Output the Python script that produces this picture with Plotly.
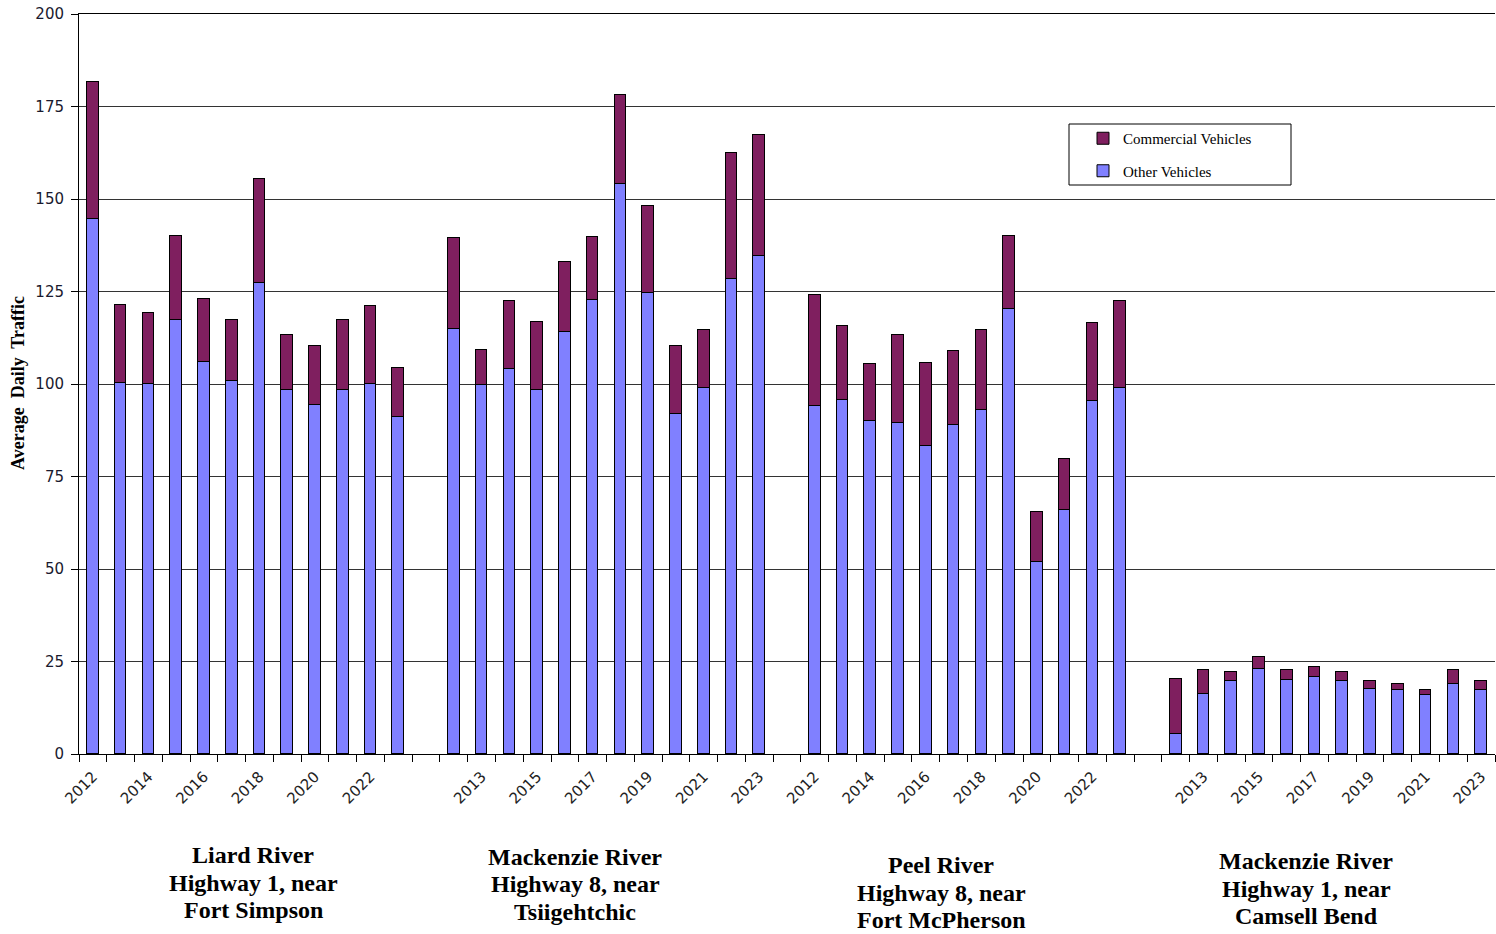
import plotly.graph_objects as go

# ---- data ----
years = [2012, 2013, 2014, 2015, 2016, 2017, 2018, 2019, 2020, 2021, 2022, 2023]
groups = [
    ["Liard River", "Highway 1, near", "Fort Simpson"],
    ["Mackenzie River", "Highway 8, near", "Tsiigehtchic"],
    ["Peel River", "Highway 8, near", "Fort McPherson"],
    ["Mackenzie River", "Highway 1, near", "Camsell Bend"],
]
# totals (top of stacked bar) and "other vehicles" per group
liard_total = [181.5, 121.4, 119.3, 140.0, 123.0, 117.2, 155.3, 113.2, 110.4, 117.2, 121.0, 104.3]
liard_other = [144.5, 100.3, 100.0, 117.2, 106.0, 100.9, 127.4, 98.5, 94.2, 98.5, 100.0, 91.0]
tsii_total = [139.4, 109.2, 122.3, 116.7, 133.1, 139.7, 178.0, 148.1, 110.3, 114.7, 162.5, 167.3]
tsii_other = [114.8, 99.7, 104.0, 98.3, 114.0, 122.6, 154.0, 124.6, 91.8, 98.9, 128.4, 134.5]
peel_total = [124.1, 115.6, 105.3, 113.2, 105.7, 109.0, 114.5, 140.1, 65.3, 79.7, 116.4, 122.4]
peel_other = [94.0, 95.8, 90.1, 89.4, 83.2, 88.8, 93.1, 120.4, 52.0, 66.0, 95.5, 98.9]
camsell_total = [20.4, 22.8, 22.1, 26.2, 22.8, 23.5, 22.1, 19.7, 19.0, 17.4, 22.8, 19.7]
camsell_other = [5.3, 16.3, 19.7, 23.1, 20.1, 20.7, 19.7, 17.7, 17.3, 16.0, 18.8, 17.3]

totals = [liard_total, tsii_total, peel_total, camsell_total]
others = [liard_other, tsii_other, peel_other, camsell_other]

y_ticks = [0, 25, 50, 75, 100, 125, 150, 175, 200]

# ---- build category positions (one empty category between groups) ----
slot = len(years) + 1
xs, other_vals, comm_vals = [], [], []
tickvals, ticktext = [], []
for g in range(len(groups)):
    for i, yr in enumerate(years):
        pos = g * slot + i
        xs.append(pos)
        other_vals.append(others[g][i])
        comm_vals.append(round(totals[g][i] - others[g][i], 2))
        if pos % 2 == 0:
            tickvals.append(pos)
            ticktext.append(str(yr))
n_cat = len(groups) * slot - 1

fig = go.Figure()
fig.add_trace(go.Bar(
    x=xs, y=other_vals, name="Other Vehicles", width=0.42,
    marker=dict(color="#8080FF", line=dict(color="#000000", width=1)),
    legendgroup="o", legendrank=2,
))
fig.add_trace(go.Bar(
    x=xs, y=comm_vals, name="Commercial Vehicles", width=0.42,
    marker=dict(color="#7F1F5F", line=dict(color="#000000", width=1)),
    legendgroup="c", legendrank=1,
))

W, H = 1496, 934
L, R, T, B = 79, 1, 14, 180
pw, ph = W - L - R, H - T - B

def px(xp):
    return (xp - L) / pw

def py(yp):
    return (H - B - yp) / ph

fig.update_layout(
    barmode="stack",
    width=W, height=H,
    margin=dict(l=L, r=R, t=T, b=B, autoexpand=False),
    plot_bgcolor="white", paper_bgcolor="white",
    bargap=0,
    showlegend=True,
    legend=dict(
        x=px(1083), y=py(122), xanchor="left", yanchor="top",
        traceorder="grouped", tracegroupgap=10,
        bgcolor="rgba(0,0,0,0)", borderwidth=0,
        font=dict(family="Liberation Serif", size=15, color="#000000"),
        itemwidth=30,
    ),
    xaxis=dict(
        range=[-0.5, n_cat - 0.5],
        tickmode="array", tickvals=tickvals, ticktext=ticktext,
        tickangle=-45, ticks="", showgrid=False, zeroline=False,
        showline=True, linecolor="#000000", linewidth=1, mirror=True,
        ticklabelstandoff=7,
        tickfont=dict(family="DejaVu Sans", size=15, color="#222222"),
        minor=dict(tickmode="array", tickvals=[k - 0.5 for k in range(n_cat + 1)],
                   ticks="outside", ticklen=7, tickcolor="#000000", tickwidth=1,
                   showgrid=False),
    ),
    yaxis=dict(
        range=[0, 200], tickmode="array", tickvals=y_ticks,
        ticks="outside", ticklen=7, tickcolor="#000000",
        showgrid=True, gridcolor="#333333", gridwidth=1,
        zeroline=False, showline=True, linecolor="#000000", linewidth=1,
        ticklabelstandoff=4,
        tickfont=dict(family="DejaVu Sans", size=15, color="#1a1a2e"),
    ),
)

# legend frame
fig.add_shape(type="rect", xref="paper", yref="paper",
              x0=px(1069), x1=px(1291), y0=py(124), y1=py(185),
              line=dict(color="#000000", width=1), fillcolor="rgba(0,0,0,0)")

# y-axis title
fig.add_annotation(text="<b>Average  Daily  Traffic</b>", textangle=-90,
                   xref="paper", yref="paper", x=px(18), y=py(383),
                   showarrow=False, xanchor="center", yanchor="middle",
                   font=dict(family="Liberation Serif", size=18, color="#000000"))

# group labels (one annotation per line)
label_pos = [(253, 855), (575, 857), (941, 865), (1306, 861)]
for lines, (gx, gy) in zip(groups, label_pos):
    for k, line in enumerate(lines):
        fig.add_annotation(text="<b>" + line + "</b>", xref="paper", yref="paper",
                           x=px(gx), y=py(gy + 27.5 * k), showarrow=False,
                           xanchor="center", yanchor="middle", align="center",
                           font=dict(family="Liberation Serif", size=24, color="#000000"))

fig.write_html("out.html", config={"displayModeBar": False},
               post_script="document.body.style.margin='0';")
